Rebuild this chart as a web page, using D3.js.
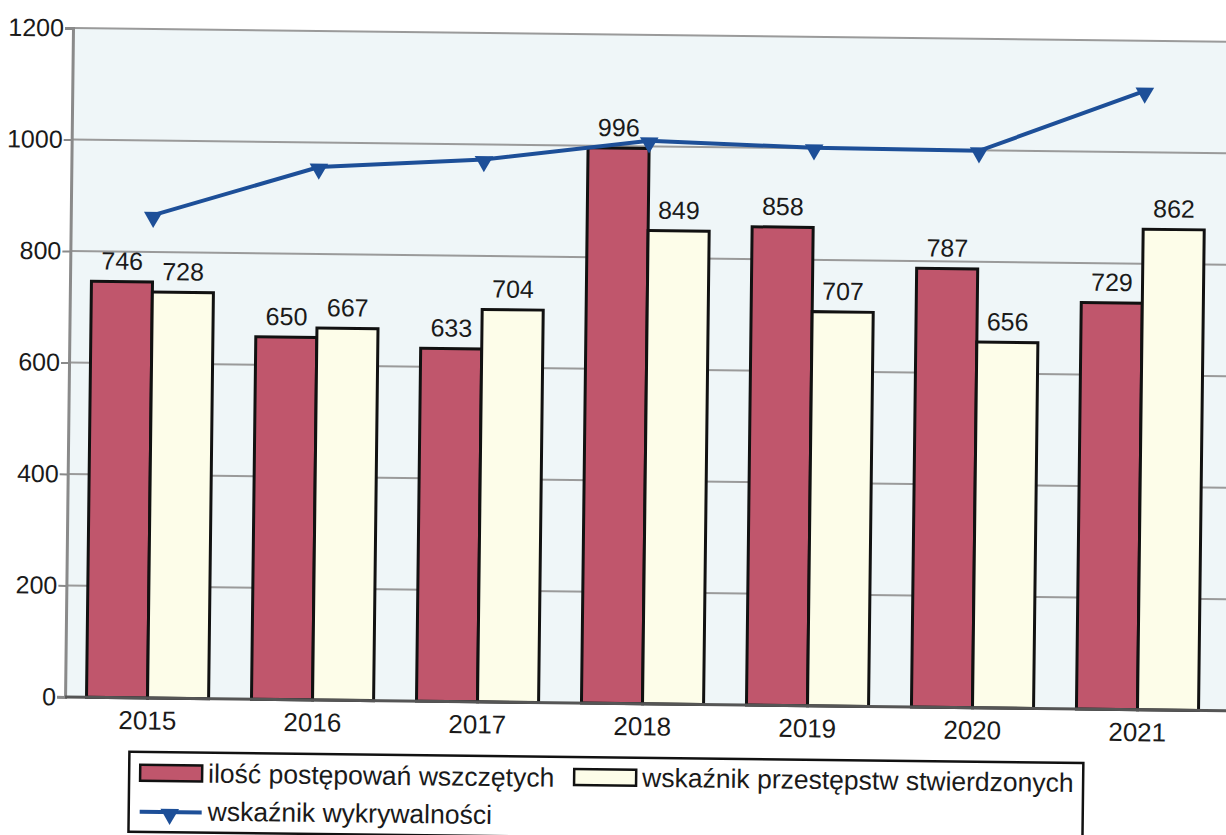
<!DOCTYPE html>
<html><head><meta charset="utf-8">
<script src="https://cdn.jsdelivr.net/npm/d3@7"></script>
<style>
html,body{margin:0;padding:0;background:#fff;}
svg{display:block;font-family:"Liberation Sans",Arial,sans-serif;}
</style></head>
<body>
<svg id="chart" width="1226" height="835"></svg>
<script>
const years = ["2015","2016","2017","2018","2019","2020","2021"];
const wszczete = [746, 650, 633, 996, 858, 787, 729];
const stwierdzone = [728, 667, 704, 849, 707, 656, 862];
const wykrywalnosc = [866, 956, 973, 1010, 1001, 999, 1110];
const yTicks = [0, 200, 400, 600, 800, 1000, 1200];
const seriesNames = ["ilość postępowań wszczętych", "wskaźnik przestępstw stwierdzonych", "wskaźnik wykrywalności"];

const colRed = "#c0566c", colCream = "#fdfde9", colBlue = "#1d4f98";
const svg = d3.select("#chart");
const root = svg.append("g").attr("transform", "rotate(0.68,73,28)");

const pLeft = 73, pTop = 28, pWidth = 1155, pBottom = 697;
const x = d3.scaleBand().domain(years).range([pLeft, pLeft + pWidth]).paddingInner(0.26).paddingOuter(0.13);
const xs = d3.scaleBand().domain([0, 1]).range([0, x.bandwidth()]);
const y = d3.scaleLinear().domain([0, 1200]).range([pBottom, pTop]);

// plot background
root.append("rect").attr("x", pLeft).attr("y", pTop).attr("width", pWidth + 20).attr("height", pBottom - pTop)
  .attr("fill", "#eff6f8");

// gridlines
root.append("g").selectAll("line").data(yTicks.filter(d => d > 0)).join("line")
  .attr("x1", pLeft).attr("x2", pLeft + pWidth + 20).attr("y1", d => y(d)).attr("y2", d => y(d))
  .attr("stroke", "#9a9a9a").attr("stroke-width", 2);

// y axis
const yAxis = d3.axisLeft(y).tickValues(yTicks).tickSize(8).tickPadding(1).tickFormat(d3.format("d"));
const gy = root.append("g").attr("transform", `translate(${pLeft},0)`).call(yAxis);
gy.select(".domain").attr("stroke", "#8a8a8a").attr("stroke-width", 3);
gy.selectAll(".tick line").attr("stroke", "#8a8a8a").attr("stroke-width", 2);
gy.selectAll("text").attr("font-size", 25).attr("fill", "#1a1a1a").attr("font-family", "Liberation Sans, Arial, sans-serif");

// bars
const groups = root.append("g").selectAll("g").data(years).join("g")
  .attr("transform", d => `translate(${x(d)},0)`);
groups.append("rect")
  .attr("x", xs(0)).attr("width", xs.bandwidth())
  .attr("y", (d, i) => y(wszczete[i])).attr("height", (d, i) => pBottom - y(wszczete[i]))
  .attr("fill", colRed).attr("stroke", "#111").attr("stroke-width", 3);
groups.append("rect")
  .attr("x", xs(1)).attr("width", xs.bandwidth())
  .attr("y", (d, i) => y(stwierdzone[i])).attr("height", (d, i) => pBottom - y(stwierdzone[i]))
  .attr("fill", colCream).attr("stroke", "#111").attr("stroke-width", 3);
groups.append("text")
  .attr("x", xs(0) + xs.bandwidth() / 2).attr("y", (d, i) => y(wszczete[i]) - 12)
  .attr("text-anchor", "middle").attr("font-size", 25).attr("fill", "#1a1a1a")
  .text((d, i) => wszczete[i]);
groups.append("text")
  .attr("x", xs(1) + xs.bandwidth() / 2).attr("y", (d, i) => y(stwierdzone[i]) - 12)
  .attr("text-anchor", "middle").attr("font-size", 25).attr("fill", "#1a1a1a")
  .text((d, i) => stwierdzone[i]);

// x axis
const xAxis = d3.axisBottom(x).tickSize(0).tickPadding(13);
const gx = root.append("g").attr("transform", `translate(0,${pBottom})`).call(xAxis);
gx.select(".domain").attr("stroke", "#555").attr("stroke-width", 3).attr("d", `M${pLeft},0H${pLeft + pWidth + 20}`);
gx.selectAll("text").attr("font-size", 26).attr("fill", "#1a1a1a").attr("font-family", "Liberation Sans, Arial, sans-serif");

// line
const cx = d => x(d) + x.bandwidth() / 2;
const line = d3.line().x((d, i) => cx(years[i])).y(d => y(d));
root.append("path").datum(wykrywalnosc).attr("d", line)
  .attr("fill", "none").attr("stroke", colBlue).attr("stroke-width", 4);
const tri = d3.symbol().type(d3.symbolTriangle).size(150);
root.append("g").selectAll("path").data(wykrywalnosc).join("path")
  .attr("d", tri)
  .attr("transform", (d, i) => `translate(${cx(years[i])},${y(d) + 2}) rotate(180)`)
  .attr("fill", colBlue);

// legend
const lg = root.append("g").attr("transform", "translate(138,751)");
lg.append("rect").attr("x", 0).attr("y", 0).attr("width", 954).attr("height", 80)
  .attr("fill", "#fff").attr("stroke", "#111").attr("stroke-width", 2.5);
lg.append("rect").attr("x", 11).attr("y", 13).attr("width", 62).attr("height", 16)
  .attr("fill", colRed).attr("stroke", "#111").attr("stroke-width", 2.5);
lg.append("text").attr("x", 79).attr("y", 30).attr("font-size", 26.5).attr("fill", "#1a1a1a").text(seriesNames[0]);
lg.append("rect").attr("x", 445).attr("y", 12).attr("width", 62).attr("height", 16)
  .attr("fill", colCream).attr("stroke", "#111").attr("stroke-width", 2.5);
lg.append("text").attr("x", 513).attr("y", 29).attr("font-size", 26.5).attr("fill", "#1a1a1a").text(seriesNames[1]);
lg.append("line").attr("x1", 11).attr("x2", 73).attr("y1", 60).attr("y2", 60)
  .attr("stroke", colBlue).attr("stroke-width", 4);
lg.append("path").attr("d", tri).attr("transform", "translate(41,62) rotate(180)").attr("fill", colBlue);
lg.append("text").attr("x", 79).attr("y", 68).attr("font-size", 26.5).attr("fill", "#1a1a1a").text(seriesNames[2]);
</script>
</body></html>
